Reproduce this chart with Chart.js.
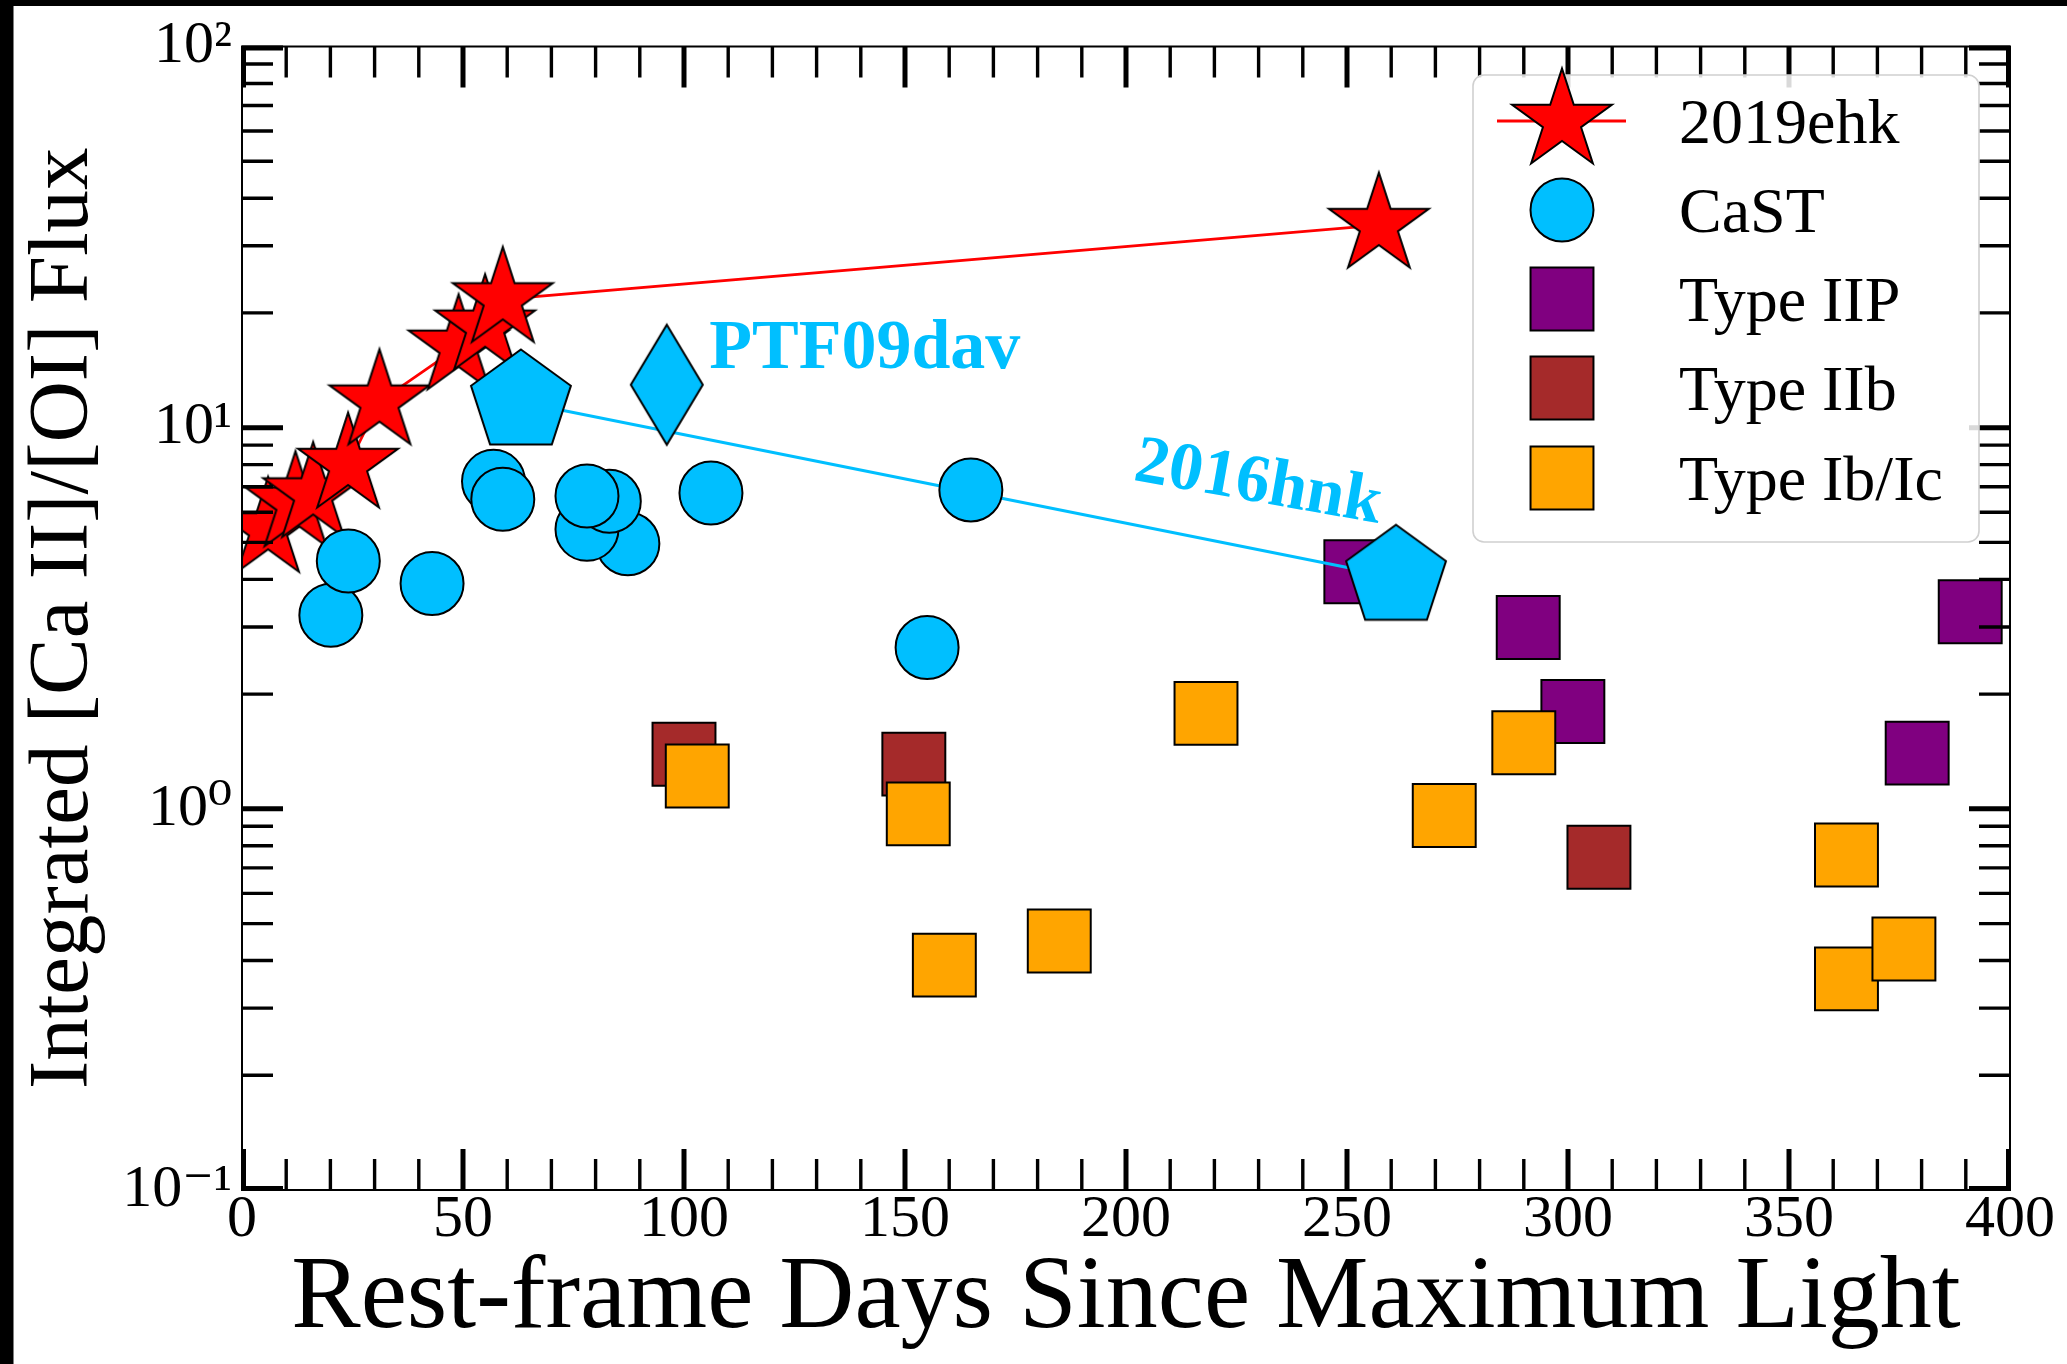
<!DOCTYPE html>
<html>
<head>
<meta charset="utf-8">
<title>[Ca II]/[OI] flux ratio vs. time</title>
<script src="https://cdn.jsdelivr.net/npm/chart.js@4.4.1/dist/chart.umd.min.js"></script>
<style>
  html, body { margin: 0; padding: 0; background: #fff; }
  canvas { display: block; }
</style>
</head>
<body>
<canvas id="chart" width="2067" height="1364"></canvas>
<script>
// ---------------- data ----------------
const xTickValues = [0, 50, 100, 150, 200, 250, 300, 350, 400];
const xTickLabels = ['0', '50', '100', '150', '200', '250', '300', '350', '400'];
const xMinorStep = 10;
const yTickValues = [0.1, 1, 10, 100];
const yTickLabels = ['10\u207B\u00B9', '10\u2070', '10\u00B9', '10\u00B2'];

// SN 2019ehk
const ehkDays  = [5.9, 12.1, 16.1, 24.0, 31.1, 49.0, 55.0, 59.0, 257.2];
const ehkRatio = [5.41, 6.32, 6.68, 7.98, 11.7, 16.3, 18.4, 21.7, 34.0];

// Calcium-strong transients
const castDays  = [20.1, 24.05, 43.0, 56.9, 59.0, 87.3, 78.05, 83.1, 78.05, 106.1, 155.0, 164.9];
const castRatio = [3.22, 4.47, 3.90, 7.23, 6.49, 4.96, 5.41, 6.41, 6.62, 6.74, 2.65, 6.86];

// SN 2016hnk and PTF09dav
const hnkDays  = [63.1, 261.1];
const hnkRatio = [11.68, 4.05];
const ptfDays  = [96.1];
const ptfRatio = [12.96];

// core-collapse comparison samples
const iipDays  = [252.0, 291.0, 301.1, 379.0, 391.0];
const iipRatio = [4.19, 2.99, 1.80, 1.40, 3.29];
const iibDays  = [100.0, 152.0, 307.0];
const iibRatio = [1.39, 1.31, 0.746];
const ibcDays  = [103.0, 153.0, 158.9, 184.9, 218.1, 272.0, 290.0, 363.0, 363.0, 376.0];
const ibcRatio = [1.22, 0.97, 0.389, 0.450, 1.78, 0.96, 1.49, 0.757, 0.358, 0.429];

// text labels placed in data coordinates
const notes = [
  { text: 'PTF09dav', x: 105.7, y: 14.3, angle: 0,  align: 'left',   baseline: 'alphabetic', size: 70 },
  { text: '2016hnk',  x: 229.9, y: 7.11, angle: 10, align: 'center', baseline: 'middle',     size: 68 }
];

const legendLabels = ['2019ehk', 'CaST', 'Type IIP', 'Type IIb', 'Type Ib/Ic'];

// ---------------- styling ----------------
const SERIF = "'Liberation Serif', 'DejaVu Serif', serif";
const RED = '#ff0000', CYAN = '#00bfff', PURPLE = '#800080', BROWN = '#a52a2a', ORANGE = '#ffa500';

const pts = (xs, ys) => xs.map((x, i) => ({ x: x, y: ys[i] }));

// polygon markers rendered once onto small canvases
function polyMarker(points, w, h, fill) {
  const c = document.createElement('canvas');
  c.width = w; c.height = h;
  const g = c.getContext('2d');
  g.translate(w / 2, h / 2);
  g.beginPath();
  points.forEach(([px, py], i) => (i ? g.lineTo(px, py) : g.moveTo(px, py)));
  g.closePath();
  g.fillStyle = fill;
  g.fill();
  g.lineWidth = 2;
  g.lineJoin = 'miter';
  g.strokeStyle = '#000';
  g.stroke();
  return c;
}
function starMarker(R, fill) {
  const p = [];
  for (let i = 0; i < 10; i++) {
    const r = i % 2 === 0 ? R : R * 0.381966;
    const a = -Math.PI / 2 + i * Math.PI / 5;
    p.push([r * Math.cos(a), r * Math.sin(a)]);
  }
  const s = 2 * Math.ceil(R + 4);
  return polyMarker(p, s, s, fill);
}
function pentagonMarker(R, fill) {
  const p = [];
  for (let i = 0; i < 5; i++) {
    const a = -Math.PI / 2 + i * 2 * Math.PI / 5;
    p.push([R * Math.cos(a), R * Math.sin(a)]);
  }
  const s = 2 * Math.ceil(R + 4);
  return polyMarker(p, s, s, fill);
}
function thinDiamondMarker(w, h, fill) {
  const p = [[0, -h / 2], [w / 2, 0], [0, h / 2], [-w / 2, 0]];
  return polyMarker(p, 2 * Math.ceil(w / 2 + 4), 2 * Math.ceil(h / 2 + 4), fill);
}

const starImg = starMarker(52.5, RED);
const pentImg = pentagonMarker(52.5, CYAN);
const diamImg = thinDiamondMarker(72, 120, CYAN);

const CIRCLE_R = 31.5;
const SQUARE_R = 44.5;   // 'rect' side = sqrt(2) * radius

function squareSet(label, xs, ys, color, order) {
  return {
    label: label, data: pts(xs, ys), order: order, clip: 0,
    pointStyle: 'rect', pointRadius: SQUARE_R, pointHoverRadius: SQUARE_R,
    pointBackgroundColor: color, pointBorderColor: '#000', pointBorderWidth: 2,
    backgroundColor: color, borderColor: '#000'
  };
}

const datasets = [
  {
    label: '2019ehk', data: pts(ehkDays, ehkRatio), order: 7, clip: 0,
    showLine: true, borderColor: RED, borderWidth: 2.8, tension: 0,
    pointStyle: starImg, pointRadius: 40, pointHoverRadius: 40,
    pointBackgroundColor: RED, pointBorderColor: '#000', backgroundColor: RED
  },
  squareSet('Type IIP', iipDays, iipRatio, PURPLE, 6),
  squareSet('Type IIb', iibDays, iibRatio, BROWN, 5),
  squareSet('Type Ib/Ic', ibcDays, ibcRatio, ORANGE, 4),
  {
    label: '2016hnk', data: pts(hnkDays, hnkRatio), order: 3, clip: 0,
    showLine: true, borderColor: CYAN, borderWidth: 3, tension: 0,
    pointStyle: pentImg, pointRadius: 40, pointHoverRadius: 40,
    pointBackgroundColor: CYAN, pointBorderColor: '#000', backgroundColor: CYAN
  },
  {
    label: 'PTF09dav', data: pts(ptfDays, ptfRatio), order: 2, clip: 0,
    pointStyle: diamImg, pointRadius: 40, pointHoverRadius: 40,
    pointBackgroundColor: CYAN, pointBorderColor: '#000', backgroundColor: CYAN
  },
  {
    label: 'CaST', data: pts(castDays, castRatio), order: 1, clip: 0,
    pointStyle: 'circle', pointRadius: CIRCLE_R, pointHoverRadius: CIRCLE_R,
    pointBackgroundColor: CYAN, pointBorderColor: '#000', pointBorderWidth: 2,
    backgroundColor: CYAN, borderColor: '#000'
  }
];

// white page with the dark strips on the left and top edges
const pageBackdrop = {
  id: 'pageBackdrop',
  beforeDraw(chart) {
    const { ctx, width, height } = chart;
    ctx.save();
    ctx.fillStyle = '#fff';
    ctx.fillRect(0, 0, width, height);
    ctx.fillStyle = '#000';
    ctx.fillRect(0, 0, 13.5, height);
    ctx.fillRect(0, 0, width, 6);
    ctx.restore();
  }
};

// closed frame with inward major/minor ticks on all four sides
const frameTicks = {
  id: 'frameTicks',
  afterDatasetsDraw(chart) {
    const { ctx, chartArea: a, scales } = chart;
    const xs = scales.x, ys = scales.y;
    const MAJ = 41, MIN = 31, MAJW = 5, MINW = 3.4;
    ctx.save();
    ctx.strokeStyle = '#000';
    ctx.lineCap = 'butt';
    ctx.lineWidth = 2;
    ctx.strokeRect(a.left, a.top, a.right - a.left, a.bottom - a.top);

    const vTick = (px, len, w) => {
      ctx.lineWidth = w;
      ctx.beginPath();
      ctx.moveTo(px, a.bottom); ctx.lineTo(px, a.bottom - len);
      ctx.moveTo(px, a.top);    ctx.lineTo(px, a.top + len);
      ctx.stroke();
    };
    const hTick = (py, len, w) => {
      ctx.lineWidth = w;
      ctx.beginPath();
      ctx.moveTo(a.left, py);  ctx.lineTo(a.left + len, py);
      ctx.moveTo(a.right, py); ctx.lineTo(a.right - len, py);
      ctx.stroke();
    };

    const xMin = xTickValues[0], xMax = xTickValues[xTickValues.length - 1];
    for (let v = xMin; v <= xMax; v += xMinorStep) {
      if (!xTickValues.includes(v)) vTick(xs.getPixelForValue(v), MIN, MINW);
    }
    xTickValues.forEach(v => {
      let px = xs.getPixelForValue(v);
      if (v === xMin) px += MAJW / 2 - 1;
      if (v === xMax) px -= MAJW / 2 - 1;
      vTick(px, MAJ, MAJW);
    });

    for (let d = 0; d < yTickValues.length - 1; d++) {
      for (let m = 2; m <= 9; m++) hTick(ys.getPixelForValue(yTickValues[d] * m), MIN, MINW);
    }
    yTickValues.forEach((v, i) => {
      let py = ys.getPixelForValue(v);
      if (i === 0) py -= MAJW / 2 - 1;
      if (i === yTickValues.length - 1) py += MAJW / 2 - 1;
      hTick(py, MAJ, MAJW);
    });
    ctx.restore();
  }
};

// object names written next to their markers
const objectNotes = {
  id: 'objectNotes',
  afterDatasetsDraw(chart) {
    const { ctx, scales } = chart;
    ctx.save();
    ctx.fillStyle = CYAN;
    notes.forEach(n => {
      const px = scales.x.getPixelForValue(n.x);
      const py = scales.y.getPixelForValue(n.y);
      ctx.save();
      ctx.translate(px, py);
      ctx.rotate(n.angle * Math.PI / 180);
      ctx.font = 'bold ' + n.size + 'px ' + SERIF;
      ctx.textAlign = n.align;
      ctx.textBaseline = n.baseline;
      ctx.fillText(n.text, 0, 0);
      ctx.restore();
    });
    ctx.restore();
  }
};

// framed legend in the upper right of the plot
const boxLegend = {
  id: 'boxLegend',
  afterDraw(chart) {
    const { ctx } = chart;
    const box = { left: 1473, top: 75, right: 1979, bottom: 542 };
    const rowY = [121, 210, 299, 388, 478];
    const markX = 1562, textX = 1679;
    ctx.save();
    ctx.beginPath();
    ctx.roundRect(box.left, box.top, box.right - box.left, box.bottom - box.top, 11);
    ctx.fillStyle = 'rgba(255,255,255,0.85)';
    ctx.fill();
    ctx.lineWidth = 1.6;
    ctx.strokeStyle = '#d0d0d0';
    ctx.stroke();

    legendLabels.forEach((label, i) => {
      const ds = chart.data.datasets.find(d => d.label === label);
      const y = rowY[i];
      if (ds.showLine) {
        ctx.strokeStyle = ds.borderColor;
        ctx.lineWidth = ds.borderWidth;
        ctx.beginPath();
        ctx.moveTo(markX - 65, y); ctx.lineTo(markX + 64, y);
        ctx.stroke();
      }
      ctx.fillStyle = ds.pointBackgroundColor;
      ctx.strokeStyle = '#000';
      ctx.lineWidth = 2;
      Chart.helpers.drawPoint(ctx, {
        pointStyle: ds.pointStyle, radius: ds.pointRadius, rotation: 0, borderWidth: 2
      }, markX, y);
      ctx.fillStyle = '#000';
      ctx.font = '64px ' + SERIF;
      ctx.textAlign = 'left';
      ctx.textBaseline = 'alphabetic';
      ctx.fillText(label, textX, y + 22);
    });
    ctx.restore();
  }
};

new Chart(document.getElementById('chart'), {
  type: 'scatter',
  data: { datasets: datasets },
  options: {
    responsive: false,
    animation: false,
    devicePixelRatio: 1,
    events: [],
    layout: { padding: { top: 44, right: 57, bottom: 0, left: 0 } },
    plugins: { legend: { display: false }, tooltip: { enabled: false } },
    scales: {
      x: {
        type: 'linear', position: 'bottom',
        min: 0, max: 400,
        grid: { display: false, drawTicks: false },
        border: { display: false },
        afterFit: s => { s.height = 174; },
        afterBuildTicks: s => { s.ticks = xTickValues.map(v => ({ value: v })); },
        ticks: {
          autoSkip: false, maxRotation: 0, padding: 0, color: '#000',
          font: { family: SERIF, size: 60, lineHeight: 1 },
          callback: (v, i) => xTickLabels[i]
        },
        title: {
          display: true, text: 'Rest-frame Days Since Maximum Light', color: '#000',
          font: { family: SERIF, size: 104, lineHeight: 1 },
          padding: { top: 0, bottom: 12 }
        }
      },
      y: {
        type: 'logarithmic', position: 'left',
        min: 0.1, max: 100,
        grid: { display: false, drawTicks: false },
        border: { display: false },
        afterFit: s => { s.width = 242; },
        afterBuildTicks: s => { s.ticks = yTickValues.map(v => ({ value: v })); },
        ticks: {
          autoSkip: false, padding: 10, color: '#000',
          font: { family: SERIF, size: 60, lineHeight: 1 },
          callback: (v, i) => yTickLabels[i]
        },
        title: {
          display: true, text: 'Integrated [Ca II]/[OI] Flux', color: '#000',
          font: { family: SERIF, size: 85, lineHeight: 1 },
          padding: { top: 22, bottom: 0 }
        }
      }
    }
  },
  plugins: [pageBackdrop, frameTicks, objectNotes, boxLegend]
});
</script>
</body>
</html>
